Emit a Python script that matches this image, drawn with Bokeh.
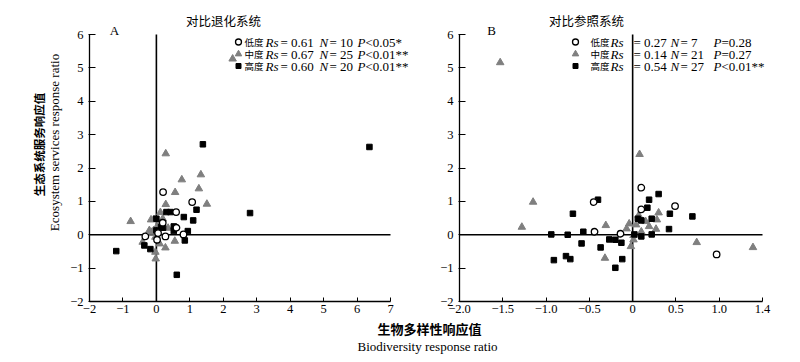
from math import pi
from bokeh.plotting import figure
from bokeh.models import Label, FixedTicker, Range1d
from bokeh.layouts import column, row
from bokeh.embed import file_html
from bokeh.resources import INLINE

# ---------------- data ----------------
# Panel A: 对比退化系统
a_low_x = [0.20, 1.07, 0.59, 0.19, 0.60, 0.81, -0.33, 0.27, 0.02, 0.05]
a_low_y = [1.28, 0.98, 0.68, 0.36, 0.21, 0.01, -0.05, -0.05, -0.15, 0.05]
a_mid_x = [2.28, 0.28, 1.33, 0.76, 1.27, 0.56, 1.51, 0.28, 0.12, -0.77, -0.16, 0.19, -0.08,
           -0.13, 0.55, 0.27, -0.41, 0.10, -0.03, -0.02, -0.08, -0.21, -0.03, 0.05, 0.35]
a_mid_y = [5.27, 2.43, 1.80, 1.65, 1.38, 1.27, 0.92, 0.91, 0.67, 0.40, 0.45, 0.48, 0.13,
           0.08, -0.19, -0.39, -0.22, -0.27, -0.52, -0.72, 0.46, 0.13, -0.07, 0.30, 0.20]
a_high_x = [1.39, 2.80, 6.37, 0.00, 0.30, 0.42, 0.14, 0.20, 0.00, 0.52, 0.52, 0.82, 1.10,
            1.20, 0.94, 0.85, -0.36, -0.18, -1.20, 0.61]
a_high_y = [2.71, 0.65, 2.63, 0.48, 0.68, 0.68, 0.23, 0.21, 0.13, 0.25, 0.11, 0.53, 0.43,
            0.75, 0.11, -0.17, -0.32, -0.43, -0.49, -1.20]

# Panel B: 对比参照系统
b_low_x = [-0.45, -0.44, -0.14, 0.10, 0.10, 0.49, 0.97]
b_low_y = [0.98, 0.09, 0.03, 1.41, 0.76, 0.86, -0.59]
b_mid_x = [-1.53, 0.08, -1.15, -1.28, -0.31, -0.04, -0.07, -0.32, 0.01, 0.01, 0.30, 0.28,
           0.19, 0.27, 0.10, 0.74, 1.39, 0.07, 0.04, 0.15, -0.02]
b_mid_y = [5.16, 2.41, 0.98, 0.23, 0.28, 0.33, 0.18, -0.70, -0.02, -0.15, 0.66, 0.45,
           0.25, 0.17, 0.09, -0.23, -0.38, 0.58, 0.30, 0.40, -0.35]
b_high_x = [-0.40, -0.69, -0.94, -0.75, -0.57, -0.59, -0.37, -0.27, -0.20, -0.13, -0.91,
            -0.77, -0.72, -0.12, -0.20, 0.02, 0.06, 0.10, 0.17, 0.19, 0.10, 0.30, 0.22,
            0.43, 0.69, 0.42, 0.22]
b_high_y = [1.05, 0.63, 0.01, 0.00, 0.09, -0.26, -0.38, -0.14, -0.15, -0.24, -0.76,
            -0.64, -0.73, -0.73, -0.99, 0.01, 0.48, 0.43, 0.81, 1.05, -0.05, 1.22, 0.48,
            0.63, 0.55, 0.17, 0.01]

# legend / statistics
level_names = ["低度", "中度", "高度"]
a_rs = ["0.61", "0.67", "0.60"]
a_n = ["10", "25", "20"]
a_p = ["<0.05*", "<0.01**", "<0.01**"]
b_rs = ["0.27", "0.14", "0.54"]
b_n = ["7", "21", "27"]
b_p = ["=0.28", "=0.27", "<0.01**"]

# axes
a_xlim = (-2, 7)
b_xlim = (-2.0, 1.5)
ylim = (-2, 6)
a_xticks = [-2, -1, 0, 1, 2, 3, 4, 5, 6, 7]
a_xlabels = ["−2", "−1", "0", "1", "2", "3", "4", "5", "6", "7"]
b_xticks = [-2.0, -1.5, -1.0, -0.5, 0, 0.5, 1.0, 1.5]
b_xlabels = ["−2.0", "−1.5", "−1.0", "−0.5", "0", "0.5", "1.0", "1.4"]
yticks = [-2, -1, 0, 1, 2, 3, 4, 5, 6]
ylabels = ["−2", "−1", "0", "1", "2", "3", "4", "5", "6"]

titles = ["对比退化系统", "对比参照系统"]
panel_tags = ["A", "B"]
ylab_cn = "生态系统服务响应值"
ylab_en = "Ecosystem services response ratio"
xlab_cn = "生物多样性响应值"
xlab_en = "Biodiversity response ratio"

SERIF = "Liberation Serif"
CJK = "Noto Sans CJK SC"
GRAY = "#7f7f7f"

# ---------------- geometry (px) ----------------
STRIP_W = 66          # left label strip
AXIS_TOP = 34         # pixel of y = 6
AXIS_BOT = 301        # pixel of y = -2 (frame bottom)
BOTTOM = 18
A_LEFT, A_AX_RIGHT, A_RIGHT = 89, 390, 430
B_LEFT, B_AX_RIGHT, B_RIGHT = 459, 762, 795
FRAME_H = AXIS_BOT
PX_Y = (AXIS_BOT - AXIS_TOP) / (ylim[1] - ylim[0])


def make_panel(xlim, left_px, axis_right_px, right_px, border_l, xticks, xlabels):
    px_x = (axis_right_px - left_px) / (xlim[1] - xlim[0])
    x_end = xlim[0] + (right_px - left_px) / px_x
    y_end = ylim[1] + AXIS_TOP / PX_Y
    p = figure(x_range=Range1d(xlim[0], x_end), y_range=Range1d(ylim[0], y_end),
               frame_width=right_px - left_px, frame_height=FRAME_H,
               min_border_left=border_l, min_border_right=0, min_border_top=0,
               min_border_bottom=BOTTOM, output_backend="svg", toolbar_location=None)
    p.title.visible = False
    p.grid.visible = False
    p.outline_line_color = None
    p.background_fill_color = "white"
    p.border_fill_color = "white"
    p.xaxis.bounds = xlim
    p.yaxis.bounds = ylim
    p.xaxis.ticker = FixedTicker(ticks=xticks)
    p.xaxis.major_label_overrides = {t: l for t, l in zip(xticks, xlabels)}
    p.yaxis.ticker = FixedTicker(ticks=yticks)
    p.yaxis.major_label_overrides = {t: l for t, l in zip(yticks, ylabels)}
    for axis in (p.xaxis[0], p.yaxis[0]):
        axis.axis_line_width = 1.3
        axis.axis_line_color = "black"
        axis.major_tick_line_color = "black"
        axis.major_tick_line_width = 1
        axis.minor_tick_line_color = None
        axis.major_label_text_font = SERIF
        axis.major_label_text_font_size = "12.5px"
        axis.major_label_text_color = "black"
    p.xaxis.major_tick_in = 4
    p.xaxis.major_tick_out = 0
    p.xaxis.major_label_standoff = 3
    p.yaxis.major_tick_in = 6
    p.yaxis.major_tick_out = 1
    p.yaxis.major_label_standoff = 5
    # zero reference lines across the axis extent
    p.segment(x0=[xlim[0]], y0=[0], x1=[xlim[1]], y1=[0], line_color="black", line_width=1.6)
    p.segment(x0=[0], y0=[ylim[0]], x1=[0], y1=[ylim[1]], line_color="black", line_width=1.6)
    return p, px_x


def draw_points(p, lx, ly, mx, my, hx, hy):
    p.scatter(mx, my, marker="triangle", size=7.5, fill_color=GRAY, line_color=GRAY)
    p.scatter(hx, hy, marker="square", size=5.5, fill_color="black", line_color="black")
    p.scatter(lx, ly, marker="circle", size=6.5, fill_color="white", line_color="black",
              line_width=1.3)


pa, a_pxx = make_panel(a_xlim, A_LEFT, A_AX_RIGHT, A_RIGHT, A_LEFT - STRIP_W,
                       a_xticks, a_xlabels)
pb, b_pxx = make_panel(b_xlim, B_LEFT, B_AX_RIGHT, B_RIGHT, B_LEFT - A_RIGHT,
                       b_xticks, b_xlabels)
draw_points(pa, a_low_x, a_low_y, a_mid_x, a_mid_y, a_high_x, a_high_y)
draw_points(pb, b_low_x, b_low_y, b_mid_x, b_mid_y, b_high_x, b_high_y)


def ax(px):
    return a_xlim[0] + (px - A_LEFT) / a_pxx


def bx(px):
    return b_xlim[0] + (px - B_LEFT) / b_pxx


def cy(py):
    return ylim[1] - (py - AXIS_TOP) / PX_Y


def lab(p, x, y, text, font, size, align="center", style="normal", angle=0,
        baseline="middle"):
    p.add_layout(Label(x=x, y=y, text=text, text_font=font, text_font_size=size,
                       text_font_style=style, text_align=align, text_baseline=baseline,
                       text_color="black", angle=angle))


# titles and panel tags
lab(pa, ax(223), cy(20), titles[0], CJK, "12.5px")
lab(pb, bx(586), cy(20), titles[1], CJK, "12.5px")
lab(pa, ax(114), cy(30), panel_tags[0], SERIF, "13px")
lab(pb, bx(491), cy(30), panel_tags[1], SERIF, "13px")

# legends
rows_py = [41.5, 53.5, 65.5]
markers = [("circle", 6, "white", "black"), ("triangle", 6.5, GRAY, GRAY),
           ("square", 5, "black", "black")]


def legend(p, fx, marker_px, seg_px, rs, ns, ps):
    for i, py in enumerate(rows_py):
        m, s, fc, lc = markers[i]
        p.scatter([fx(marker_px)], [cy(py)], marker=m, size=s, fill_color=fc, line_color=lc,
                  line_width=1.3 if m == "circle" else 1)
        parts = [(level_names[i], CJK, "normal", "9.5px"),
                 ("Rs", SERIF, "italic", "13px"),
                 ("= " + rs[i], SERIF, "normal", "13px"),
                 ("N", SERIF, "italic", "13px"),
                 ("= " + ns[i], SERIF, "normal", "13px"),
                 ("P", SERIF, "italic", "13px"),
                 (ps[i], SERIF, "normal", "13px")]
        for (txt, font, style, size), sx in zip(parts, seg_px):
            lab(p, fx(sx), cy(py), txt, font, size, align="left", style=style)


legend(pa, ax, 238, [244, 265, 280, 319, 329, 357, 365], a_rs, a_n, a_p)
legend(pb, bx, 575, [590, 610, 633, 670, 680, 713, 721], b_rs, b_n, b_p)

# left strip with the vertical y-axis title (two lines)
H_MAIN = FRAME_H + BOTTOM
ps = figure(x_range=Range1d(0, STRIP_W), y_range=Range1d(0, H_MAIN), frame_width=STRIP_W,
            frame_height=H_MAIN, min_border=0, x_axis_type=None, y_axis_type=None,
            output_backend="svg", toolbar_location=None)
ps.title.visible = False
ps.grid.visible = False
ps.outline_line_color = None
lab(ps, 46, H_MAIN - 144, ylab_cn, CJK, "11.5px", style="bold", angle=pi / 2,
    baseline="bottom")
lab(ps, 46, H_MAIN - 142, ylab_en, SERIF, "13px", angle=pi / 2, baseline="top")

# bottom strip with the x-axis title
W = B_RIGHT
H_B = 362 - H_MAIN - 1
pbot = figure(x_range=Range1d(0, W), y_range=Range1d(0, H_B), frame_width=W, frame_height=H_B,
              min_border=0, x_axis_type=None, y_axis_type=None, output_backend="svg",
              toolbar_location=None)
pbot.title.visible = False
pbot.grid.visible = False
pbot.outline_line_color = None
lab(pbot, 429, H_B - (328 - H_MAIN), xlab_cn, CJK, "13px", style="bold")
lab(pbot, 427, H_B - (346 - H_MAIN), xlab_en, SERIF, "13px")

layout = column(row(ps, pa, pb), pbot)
open("out.html", "w").write(file_html(layout, INLINE))
